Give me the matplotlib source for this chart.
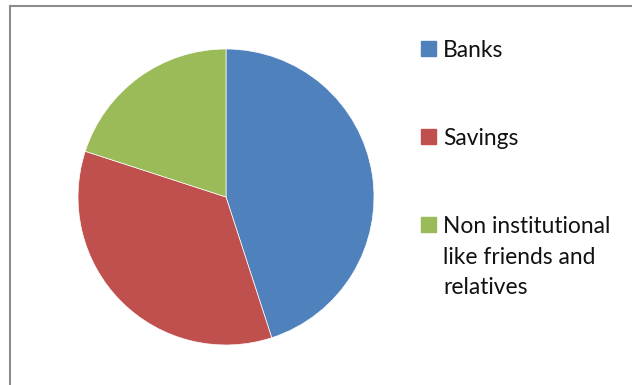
import matplotlib
matplotlib.use("Agg")
import matplotlib.pyplot as plt
from matplotlib.patches import Rectangle
from matplotlib.lines import Line2D

labels = ["Banks", "Savings", "Non institutional\nlike friends and\nrelatives"]
values = [45, 35, 20]
colors = ["#4F81BD", "#C0504D", "#9BBB59"]

W, H = 632, 385
fig = plt.figure(figsize=(W / 100, H / 100), dpi=100)

# chart frame (top and left edges visible)
fig.add_artist(Line2D([10 / W, 10 / W], [0, 1 - 6 / H], color="#8c8c8c", lw=1.5))
fig.add_artist(Line2D([10 / W, 1], [1 - 6 / H, 1 - 6 / H], color="#8c8c8c", lw=1.5))

cx, cy, r = 226, 197, 148
ax = fig.add_axes([(cx - r) / W, (H - cy - r) / H, 2 * r / W, 2 * r / H])
ax.pie(values, colors=colors, startangle=90, counterclock=False,
       wedgeprops=dict(linewidth=0.5, edgecolor="white"))
ax.set_xlim(-1, 1)
ax.set_ylim(-1, 1)
ax.set_aspect("equal")
ax.axis("off")

ys = [49, 137, 225]
for lab, col, y in zip(labels, colors, ys):
    fig.add_artist(Rectangle((421 / W, 1 - (y + 7) / H), 15 / W, 15 / H,
                             transform=fig.transFigure, color=col))
    fig.text(443 / W, 1 - (y - 9) / H, lab, ha="left", va="top",
             fontsize=16.4, family="Lato", color="#111111", linespacing=1.57)

fig.savefig("out.png", dpi=100)
